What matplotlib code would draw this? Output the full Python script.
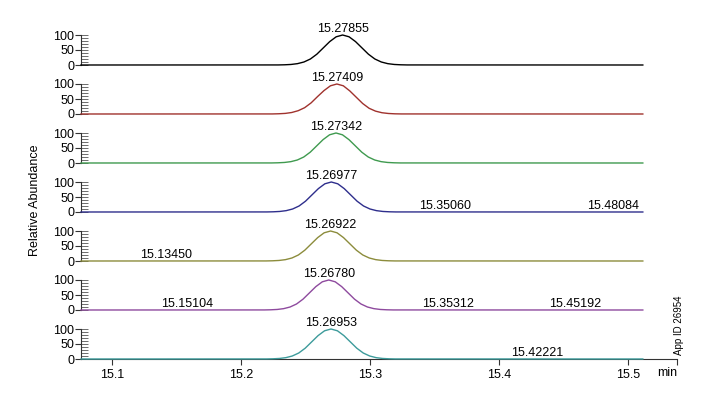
import matplotlib
matplotlib.use("Agg")
import matplotlib.pyplot as plt
from matplotlib.ticker import MultipleLocator, FixedLocator

plt.rcParams['font.family'] = ['Liberation Sans', 'DejaVu Sans']

# apex retention times (min) of each trace
apex = [15.27855, 15.27409, 15.27342, 15.26977, 15.26922, 15.26780, 15.26953]
colors = ['#000000', '#a0322d', '#3f9a4f', '#2e2e8c', '#8c8c3c', '#8e4a9e', '#3d9b9b']

# minor peak labels per trace
minor_labels = [
    [],
    [],
    [],
    [15.35060, 15.48084],
    [15.13450],
    [15.15104, 15.35312, 15.45192],
    [15.42221],
]

# offsets from apex (min) and relative abundance
offsets = [-0.050, -0.045, -0.040, -0.035, -0.030, -0.025, -0.020, -0.015, -0.010, -0.005, 0.0,
           0.005, 0.010, 0.015, 0.020, 0.025, 0.030, 0.035, 0.040, 0.045, 0.050]
abundance = [
    [0.2, 0.7, 1.8, 4.5, 10, 20, 36, 57, 78, 94, 100, 94, 78, 57, 36, 20, 10, 4.5, 1.8, 0.7, 0.2],
    [0.2, 0.8, 2.0, 5.0, 11, 21, 37, 58, 78, 94, 100, 94, 77, 56, 35, 19, 9.5, 4.2, 1.7, 0.6, 0.2],
    [0.2, 0.7, 1.8, 4.5, 10, 20, 36, 57, 78, 94, 100, 94, 78, 57, 36, 20, 10, 4.5, 1.8, 0.7, 0.2],
    [0.2, 0.7, 1.8, 4.5, 10, 20, 36, 57, 78, 94, 100, 94, 78, 57, 36, 20, 10, 4.5, 1.8, 0.7, 0.2],
    [0.2, 0.7, 1.8, 4.5, 10, 20, 36, 57, 78, 94, 100, 94, 78, 57, 36, 20, 10, 4.5, 1.8, 0.7, 0.2],
    [0.2, 0.7, 1.8, 4.5, 10, 20, 36, 57, 78, 94, 100, 94, 78, 57, 36, 20, 10, 4.5, 1.8, 0.7, 0.2],
    [0.2, 0.7, 1.8, 4.5, 10, 20, 36, 57, 78, 94, 100, 94, 78, 57, 36, 20, 10, 4.5, 1.8, 0.7, 0.2],
]

t_start = 15.0757
t_end = 15.5113
x_max = 15.5378
x_ticks = [15.1, 15.2, 15.3, 15.4, 15.5]

W, H = 713, 399
fig = plt.figure(figsize=(W / 100, H / 100), dpi=100)

left = 81 / W
width = (677 - 81) / W
for k in range(7):
    base = 65 + 49 * k
    ax = fig.add_axes([left, (H - base) / H, width, 30 / H])
    t = [t_start] + [apex[k] + o for o in offsets] + [t_end]
    y = [0] + abundance[k] + [0]
    ax.plot(t, y, color=colors[k], lw=1.0, zorder=3, clip_on=False)
    ax.set_xlim(t_start, x_max)
    ax.set_ylim(0, 100)
    for s in ['top', 'right']:
        ax.spines[s].set_visible(False)
    ax.spines['left'].set_color('#333333')
    ax.spines['left'].set_linewidth(0.8)
    ax.yaxis.set_major_locator(FixedLocator([0, 50, 100]))
    ax.yaxis.set_minor_locator(MultipleLocator(10))
    ax.yaxis.remove_overlapping_locs = False
    ax.tick_params(axis='y', which='major', direction='out', length=4, width=0.8,
                   labelsize=9, pad=1, color='#333333')
    ax.tick_params(axis='y', which='minor', direction='in', length=5, width=0.6,
                   color='#555555')
    ax.patch.set_visible(False)

    ax.text(apex[k], max(abundance[k]), '%.5f' % apex[k], ha='center', va='bottom',
            fontsize=9, clip_on=False)
    for m in minor_labels[k]:
        ax.text(m + 0.007, 1, '%.5f' % m, ha='center', va='bottom', fontsize=9,
                clip_on=False)

    if k < 6:
        ax.spines['bottom'].set_visible(False)
        ax.set_xticks([])
    else:
        ax.spines['bottom'].set_color('#333333')
        ax.spines['bottom'].set_linewidth(0.8)
        ax.set_xticks(x_ticks + [x_max])
        ax.set_xticklabels(['%g' % v for v in x_ticks] + [''])
        ax.tick_params(axis='x', direction='out', length=4, width=0.8,
                       labelsize=9, pad=3, color='#333333')

fig.text(667 / W, 1 - 373 / H, 'min', ha='center', va='center', fontsize=9)
fig.text(35 / W, 1 - 200 / H, 'Relative Abundance', rotation=90,
         ha='center', va='center', fontsize=9)
fig.text(679 / W, 1 - 325 / H, 'App ID 26954', rotation=90,
         ha='center', va='center', fontsize=7)

fig.savefig('out.png', dpi=100)
